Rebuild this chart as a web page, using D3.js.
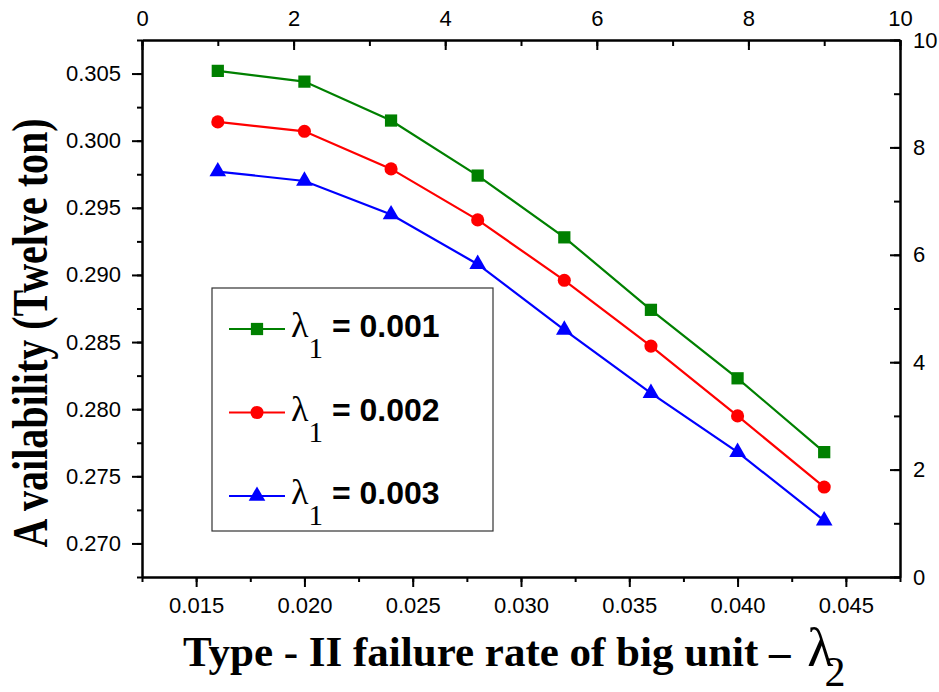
<!DOCTYPE html>
<html>
<head>
<meta charset="utf-8">
<script src="https://cdn.jsdelivr.net/npm/d3@7"></script>
<style>
  body { margin: 0; background: #fff; }
  .tick text { font-family: "Liberation Sans", Arial, sans-serif; font-size: 22px; fill: #000; }
  .domain, .tick line { stroke: #000; stroke-width: 2px; }
</style>
</head>
<body>
<div id="chart"></div>
<script>
// failure rate of big unit (lambda 2)
var lambda2 = [0.016, 0.020, 0.024, 0.028, 0.032, 0.036, 0.040, 0.044];

// availability for each lambda 1
var avail001 = [0.3052, 0.3044, 0.3015, 0.2974, 0.2928, 0.2874, 0.2823, 0.2768];
var avail002 = [0.3014, 0.3007, 0.2979, 0.2941, 0.2896, 0.2847, 0.2795, 0.2742];
var avail003 = [0.2977, 0.2970, 0.2945, 0.2908, 0.2859, 0.2812, 0.2768, 0.2717];

var seriesNames = ["0.001", "0.002", "0.003"];
var seriesColors = ["#008000", "#ff0000", "#0000ff"];

var xTicks = [0.015, 0.020, 0.025, 0.030, 0.035, 0.040, 0.045];
var yTicks = [0.270, 0.275, 0.280, 0.285, 0.290, 0.295, 0.300, 0.305];
var sideTicks = [0, 2, 4, 6, 8, 10];

var margin = {top: 40, right: 39, bottom: 115, left: 142};
var width = 939 - margin.left - margin.right;
var height = 692 - margin.top - margin.bottom;

var svg = d3.select("#chart").append("svg")
  .attr("width", 939)
  .attr("height", 692);

var g = svg.append("g")
  .attr("transform", "translate(" + margin.left + "," + margin.top + ")");

var x = d3.scaleLinear().domain([0.0125, 0.0475]).range([0, width]);
var y = d3.scaleLinear().domain([0.2675, 0.3075]).range([height, 0]);
var xTop = d3.scaleLinear().domain([0, 10]).range([0, width]);
var yRight = d3.scaleLinear().domain([0, 10]).range([height, 0]);

// minor ticks every half step
function minor(lo, hi, step) {
  var out = [];
  for (var i = 0; lo + i * step <= hi + step / 100; i++) out.push(lo + i * step);
  return out;
}

function drawAxis(axisFn, scale, major, minors, transform, inward) {
  var maj = axisFn(scale).tickValues(major);
  var mn = axisFn(scale).tickValues(minors).tickFormat("");
  if (inward) {
    maj.tickSizeInner(-10).tickSizeOuter(0).tickPadding(20);
    mn.tickSizeInner(-6).tickSizeOuter(0);
  } else {
    maj.tickSizeInner(10).tickSizeOuter(0).tickPadding(10);
    mn.tickSizeInner(5).tickSizeOuter(0);
  }
  g.append("g").attr("transform", transform).call(mn);
  return g.append("g").attr("transform", transform).call(maj);
}

drawAxis(d3.axisBottom, x, xTicks, minor(0.0125, 0.0475, 0.0025), "translate(0," + height + ")", false);
drawAxis(d3.axisLeft, y, yTicks, minor(0.2675, 0.3075, 0.0025), "translate(0,0)", false)
  .selectAll(".tick text").attr("x", -21);
drawAxis(d3.axisTop, xTop, sideTicks, minor(0, 10, 1), "translate(0,0)", true)
  .selectAll(".tick text").attr("y", -14);
drawAxis(d3.axisRight, yRight, sideTicks, minor(0, 10, 1), "translate(" + width + ",0)", true)
  .selectAll(".tick text").attr("x", 13);

g.selectAll(".tick text")
  .filter(function() { return d3.select(this).text() !== ""; })
  .text(function(d) { return d < 0.5 && d !== 0 ? d3.format(".3f")(d) : d; });

var symbols = [d3.symbolSquare, d3.symbolCircle, d3.symbolTriangle];
var symbolSizes = [150, 135, 120];
var allSeries = [avail001, avail002, avail003];

var line = d3.line()
  .x(function(d) { return x(d[0]); })
  .y(function(d) { return y(d[1]); });

allSeries.forEach(function(vals, i) {
  var pts = lambda2.map(function(l, j) { return [l, vals[j]]; });
  g.append("path")
    .datum(pts)
    .attr("d", line)
    .attr("fill", "none")
    .attr("stroke", seriesColors[i])
    .attr("stroke-width", 2.2);
  g.selectAll(".pt" + i)
    .data(pts)
    .enter().append("path")
    .attr("class", "pt" + i)
    .attr("transform", function(d) { return "translate(" + x(d[0]) + "," + y(d[1]) + ")"; })
    .attr("d", d3.symbol().type(symbols[i]).size(symbolSizes[i]))
    .attr("fill", seriesColors[i]);
});

// legend
var legend = svg.append("g");
legend.append("rect")
  .attr("x", 212).attr("y", 288)
  .attr("width", 281).attr("height", 243)
  .attr("fill", "#fff")
  .attr("stroke", "#333")
  .attr("stroke-width", 1.2);

seriesNames.forEach(function(name, i) {
  var ly = 329 + i * 83.5;
  legend.append("line")
    .attr("x1", 229).attr("x2", 285)
    .attr("y1", ly).attr("y2", ly)
    .attr("stroke", seriesColors[i])
    .attr("stroke-width", 2.2);
  legend.append("path")
    .attr("transform", "translate(257," + ly + ")")
    .attr("d", d3.symbol().type(symbols[i]).size(symbolSizes[i]))
    .attr("fill", seriesColors[i]);
  var t = legend.append("text")
    .attr("x", 291).attr("y", ly + 8);
  t.append("tspan")
    .style("font-family", "'Liberation Serif', 'Times New Roman', serif")
    .style("font-size", "36px")
    .text("\u03bb");
  t.append("tspan")
    .attr("dy", 21)
    .style("font-family", "'Liberation Serif', 'Times New Roman', serif")
    .style("font-size", "29px")
    .text("1");
  t.append("tspan")
    .attr("dy", -21)
    .attr("dx", 9)
    .style("font-family", "'Liberation Sans', Arial, sans-serif")
    .style("font-weight", "bold")
    .style("font-size", "32px")
    .text("= " + name);
});

// axis titles
var xt = svg.append("text")
  .attr("x", 183).attr("y", 666)
  .style("font-family", "'Liberation Serif', 'Times New Roman', serif");
xt.append("tspan")
  .style("font-weight", "bold")
  .style("font-size", "43px")
  .text("Type - II failure rate of big unit \u2013 ");
xt.append("tspan")
  .attr("dx", 6)
  .style("font-size", "54px")
  .text("\u03bb");
xt.append("tspan")
  .attr("dy", 20)
  .attr("dx", -9)
  .style("font-size", "42px")
  .text("2");

svg.append("text")
  .attr("transform", "translate(47,333) rotate(-90) scale(0.8,1)")
  .attr("text-anchor", "middle")
  .style("font-family", "'Liberation Serif', 'Times New Roman', serif")
  .style("font-weight", "bold")
  .style("font-size", "50px")
  .text("A vailability (Twelve ton)");
</script>
</body>
</html>
